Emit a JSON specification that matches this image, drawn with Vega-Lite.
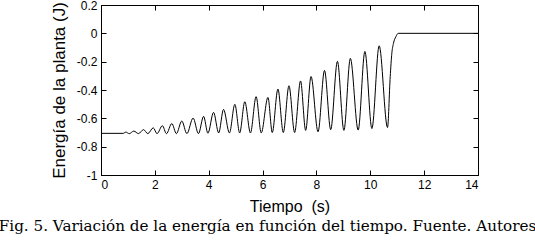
{
  "$schema": "https://vega.github.io/schema/vega-lite/v6.json",
  "width": 377,
  "height": 170,
  "autosize": {"type": "none"},
  "padding": {"left": 101, "top": 5, "right": 57, "bottom": 67},
  "background": "white",
  "title": {
    "text": "Fig. 5. Variación de la energía en función del tiempo. Fuente. Autores",
    "orient": "bottom",
    "anchor": "middle",
    "frame": "group",
    "dx": -22,
    "offset": 5,
    "font": "DejaVu Serif",
    "fontSize": 15.2,
    "fontWeight": "normal",
    "color": "black"
  },
  "data": {
    "values": [
      {"t": 0, "v": -0.706},
      {"t": 0.83, "v": -0.706},
      {"t": 0.92, "v": -0.697},
      {"t": 1.05, "v": -0.708},
      {"t": 1.22, "v": -0.69},
      {"t": 1.39, "v": -0.708},
      {"t": 1.58, "v": -0.68},
      {"t": 1.74, "v": -0.708},
      {"t": 1.94, "v": -0.667},
      {"t": 2.08, "v": -0.708},
      {"t": 2.28, "v": -0.652},
      {"t": 2.43, "v": -0.708},
      {"t": 2.63, "v": -0.637},
      {"t": 2.8, "v": -0.708},
      {"t": 3.0, "v": -0.619},
      {"t": 3.19, "v": -0.708},
      {"t": 3.42, "v": -0.598},
      {"t": 3.62, "v": -0.708},
      {"t": 3.81, "v": -0.586},
      {"t": 3.97, "v": -0.705},
      {"t": 4.18, "v": -0.558},
      {"t": 4.37, "v": -0.703},
      {"t": 4.55, "v": -0.537},
      {"t": 4.77, "v": -0.703},
      {"t": 4.97, "v": -0.501},
      {"t": 5.15, "v": -0.703},
      {"t": 5.34, "v": -0.483},
      {"t": 5.55, "v": -0.703},
      {"t": 5.76, "v": -0.447},
      {"t": 5.95, "v": -0.703},
      {"t": 6.2, "v": -0.452},
      {"t": 6.36, "v": -0.7},
      {"t": 6.57, "v": -0.393},
      {"t": 6.77, "v": -0.7},
      {"t": 6.98, "v": -0.37},
      {"t": 7.19, "v": -0.7},
      {"t": 7.41, "v": -0.336},
      {"t": 7.6, "v": -0.685},
      {"t": 7.8, "v": -0.305},
      {"t": 8.06, "v": -0.695},
      {"t": 8.3, "v": -0.262},
      {"t": 8.53, "v": -0.68},
      {"t": 8.78, "v": -0.198},
      {"t": 9.02, "v": -0.685},
      {"t": 9.26, "v": -0.177},
      {"t": 9.55, "v": -0.683},
      {"t": 9.8, "v": -0.128},
      {"t": 10.06, "v": -0.672},
      {"t": 10.33, "v": -0.088},
      {"t": 10.64, "v": -0.665},
      {"t": 10.74, "v": -0.306},
      {"t": 10.8, "v": -0.141},
      {"t": 10.86, "v": -0.071},
      {"t": 10.95, "v": -0.024},
      {"t": 11.04, "v": 0},
      {"t": 14, "v": 0}
    ]
  },
  "layer": [
    {
      "mark": {"type": "line", "color": "black", "strokeWidth": 1, "interpolate": "monotone"},
      "encoding": {
        "x": {
          "field": "t",
          "type": "quantitative",
          "scale": {"domain": [0, 14], "nice": false, "zero": false},
          "axis": {
            "orient": "bottom",
            "title": "Tiempo \u00a0(s)",
            "values": [0, 2, 4, 6, 8, 10, 12, 14],
            "labelExpr": "'' + datum.value",
            "titleFontSize": 16,
            "titlePadding": 8
          }
        },
        "y": {
          "field": "v",
          "type": "quantitative",
          "scale": {"domain": [-1, 0.2], "nice": false, "zero": false},
          "axis": {
            "orient": "left",
            "title": "Energía de la planta (J)",
            "values": [-1, -0.8, -0.6, -0.4, -0.2, 0, 0.2],
            "labelExpr": "'' + datum.value",
            "titleFontSize": 17,
            "titlePadding": 8
          }
        }
      }
    },
    {
      "mark": {"type": "line", "opacity": 0},
      "encoding": {
        "x": {
          "field": "t",
          "type": "quantitative",
          "axis": {"orient": "top", "title": null, "labels": false, "values": [0, 2, 4, 6, 8, 10, 12, 14]}
        },
        "y": {
          "field": "v",
          "type": "quantitative",
          "axis": {"orient": "right", "title": null, "labels": false, "values": [-1, -0.8, -0.6, -0.4, -0.2, 0, 0.2]}
        }
      }
    }
  ],
  "resolve": {"axis": {"x": "independent", "y": "independent"}},
  "config": {
    "view": {"stroke": "black", "strokeWidth": 1},
    "axis": {
      "grid": false,
      "domainColor": "black",
      "domainWidth": 1,
      "tickColor": "black",
      "tickWidth": 1,
      "tickSize": -5,
      "labelPadding": 9,
      "labelColor": "black",
      "titleColor": "black",
      "labelFont": "Liberation Sans",
      "titleFont": "Liberation Sans",
      "labelFontSize": 12,
      "titleFontWeight": "normal"
    }
  }
}
